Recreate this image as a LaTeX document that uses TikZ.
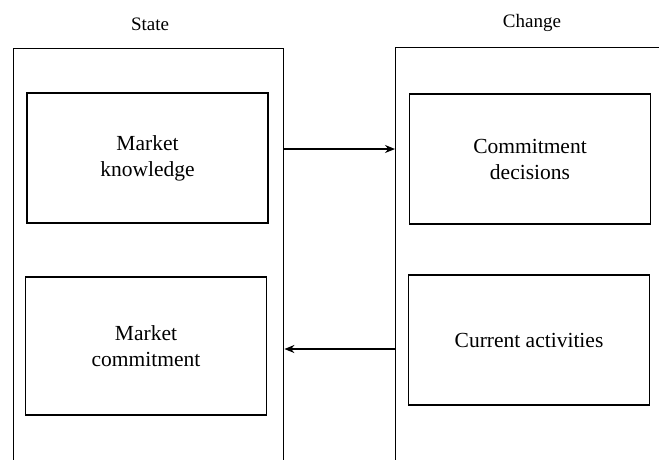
\documentclass[tikz,border=0pt]{standalone}
\usepackage{fontspec}
\setmainfont{Liberation Serif}
\usetikzlibrary{arrows.meta}

\tikzset{
  inbox/.style={draw, line width=1.4pt, minimum width=241pt, minimum height=130pt,
    align=center, font=\rmfamily\fontsize{21.5}{26}\selectfont},
  outbox/.style={draw, line width=1.4pt, anchor=north west},
  head/.style={font=\rmfamily\fontsize{19}{22}\selectfont}
}

\begin{document}
\begin{tikzpicture}[>={Stealth[length=10pt,width=8pt]}, x=1pt, y=-1pt]
\useasboundingbox (0,0) rectangle (659,459);
\clip (0,0) rectangle (659,459);

% the two columns run off the page
\node[outbox, minimum width=270pt, minimum height=440pt] (state) at (13,48) {};
\node[outbox, minimum width=300pt, minimum height=440pt] (change) at (395,47) {};
\node[head] (statelbl) at (150,24) {State};
\node[head] (changelbl) at (532,23) {Change};

\node[inbox] (knowledge) at (147.5,158) {Market\\knowledge};
\node[inbox, minimum height=138pt] (commitment) at (146,346) {Market\\commitment};
\node[inbox] (decisions) at (530,159) {Commitment\\decisions};
\node[inbox] (activities) at (529,340) {Current activities};

\coordinate (up) at (0,149);
\coordinate (down) at (0,349);
\draw[->, line width=1.4pt] (state.east |- up) -- (change.west |- up);
\draw[->, line width=1.4pt] (change.west |- down) -- (state.east |- down);

\end{tikzpicture}
\end{document}
